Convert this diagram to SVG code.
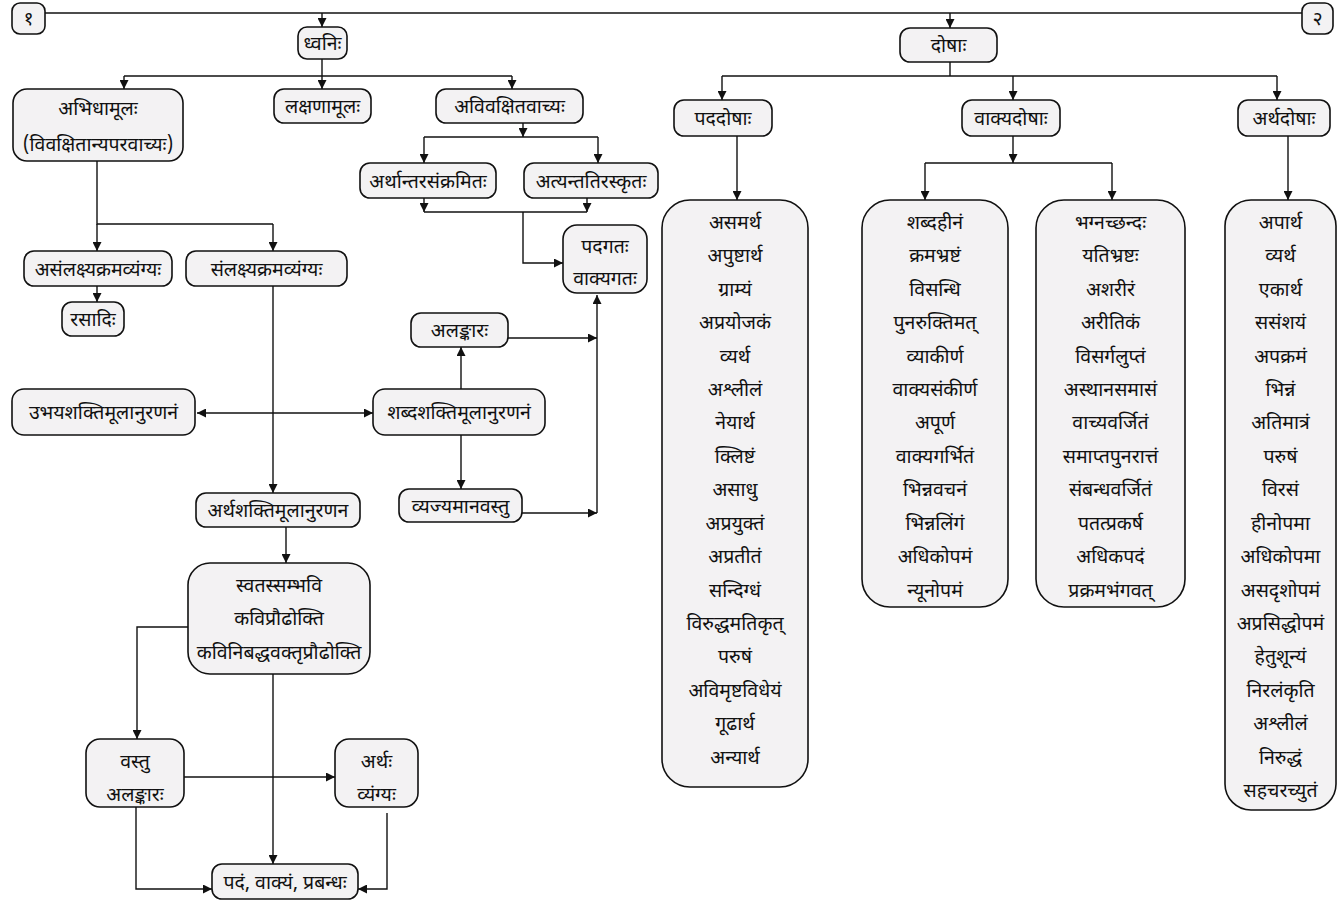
<svg xmlns="http://www.w3.org/2000/svg" width="1342" height="901" viewBox="0 0 1342 901">
<style>
.n{fill:#f3f2f3;stroke:#111;stroke-width:1.6}
.t{font-family:"Noto Sans Devanagari","Lohit Devanagari","Noto Sans",sans-serif;font-size:19.5px;text-anchor:middle;fill:#111}
.c{fill:none;stroke:#111;stroke-width:1.4}
</style>
<defs>
<marker id="a" viewBox="0 0 10 10" refX="10" refY="5" markerWidth="9" markerHeight="9" markerUnits="userSpaceOnUse" orient="auto-start-reverse"><path d="M0,0 L10,5 L0,10 z" fill="#111"/></marker>
</defs>
<rect width="1342" height="901" fill="#fff"/>
<g id="connectors">
<path class="c" d="M45,13 H1302"/>
<path class="c" d="M322,13 V27" marker-end="url(#a)"/>
<path class="c" d="M950,13 V28" marker-end="url(#a)"/>
<path class="c" d="M322,59 V89" marker-end="url(#a)"/>
<path class="c" d="M124,76 H512"/>
<path class="c" d="M124,76 V89" marker-end="url(#a)"/>
<path class="c" d="M512,76 V89" marker-end="url(#a)"/>
<path class="c" d="M97,161 V224 H273"/>
<path class="c" d="M97,224 V251" marker-end="url(#a)"/>
<path class="c" d="M273,224 V251" marker-end="url(#a)"/>
<path class="c" d="M97,286 V302" marker-end="url(#a)"/>
<path class="c" d="M273,286 V493" marker-end="url(#a)"/>
<path class="c" d="M197,413 H373" marker-start="url(#a)" marker-end="url(#a)"/>
<path class="c" d="M461,389 V347" marker-end="url(#a)"/>
<path class="c" d="M461,435 V489" marker-end="url(#a)"/>
<path class="c" d="M508,338 H597" marker-end="url(#a)"/>
<path class="c" d="M522,513 H597" marker-end="url(#a)"/>
<path class="c" d="M597,513 V295" marker-end="url(#a)"/>
<path class="c" d="M523,123 V137" marker-end="url(#a)"/>
<path class="c" d="M424,137 H598"/>
<path class="c" d="M424,137 V163" marker-end="url(#a)"/>
<path class="c" d="M598,137 V163" marker-end="url(#a)"/>
<path class="c" d="M424,198 V212" marker-end="url(#a)"/>
<path class="c" d="M587,198 V212" marker-end="url(#a)"/>
<path class="c" d="M424,212 H587"/>
<path class="c" d="M523,212 V263 H563" marker-end="url(#a)"/>
<path class="c" d="M286,527 V563" marker-end="url(#a)"/>
<path class="c" d="M188,627 H137 V739" marker-end="url(#a)"/>
<path class="c" d="M273,674 V864" marker-end="url(#a)"/>
<path class="c" d="M184,777 H335" marker-end="url(#a)"/>
<path class="c" d="M136,807 V889 H212" marker-end="url(#a)"/>
<path class="c" d="M387,813 V889 H358" marker-end="url(#a)"/>
<path class="c" d="M950,62 V76"/>
<path class="c" d="M722,76 H1277"/>
<path class="c" d="M722,76 V100" marker-end="url(#a)"/>
<path class="c" d="M1013,76 V100" marker-end="url(#a)"/>
<path class="c" d="M1277,76 V100" marker-end="url(#a)"/>
<path class="c" d="M737,136 V200" marker-end="url(#a)"/>
<path class="c" d="M1013,136 V163" marker-end="url(#a)"/>
<path class="c" d="M925,163 H1112"/>
<path class="c" d="M925,163 V200" marker-end="url(#a)"/>
<path class="c" d="M1112,163 V200" marker-end="url(#a)"/>
<path class="c" d="M1288,136 V200" marker-end="url(#a)"/>
</g>
<g id="n1"><rect class="n" x="12" y="3" width="33" height="31" rx="8"/><text class="t" x="28.5" y="25">१</text></g>
<g id="n2"><rect class="n" x="1302" y="3" width="31" height="31" rx="8"/><text class="t" x="1317.5" y="25">२</text></g>
<g id="dhvani"><rect class="n" x="298" y="27" width="49" height="32" rx="9"/><text class="t" x="322.5" y="50">ध्वनिः</text></g>
<g id="doshah"><rect class="n" x="900" y="28" width="97" height="34" rx="10"/><text class="t" x="948.5" y="52">दोषाः</text></g>
<g id="abhidha"><rect class="n" x="13" y="89" width="170" height="72" rx="14"/><text class="t" x="98" y="115">अभिधामूलः</text><text class="t" x="98" y="151">(विवक्षितान्यपरवाच्यः)</text></g>
<g id="lakshana"><rect class="n" x="274" y="89" width="97" height="34" rx="10"/><text class="t" x="322.5" y="113">लक्षणामूलः</text></g>
<g id="avivakshita"><rect class="n" x="436" y="89" width="147" height="34" rx="10"/><text class="t" x="509.5" y="113">अविवक्षितवाच्यः</text></g>
<g id="padadosha"><rect class="n" x="674" y="100" width="98" height="36" rx="10"/><text class="t" x="723" y="125">पददोषाः</text></g>
<g id="vakyadosha"><rect class="n" x="962" y="100" width="98" height="36" rx="10"/><text class="t" x="1011" y="125">वाक्यदोषाः</text></g>
<g id="arthadosha"><rect class="n" x="1238" y="100" width="92" height="36" rx="10"/><text class="t" x="1284" y="125">अर्थदोषाः</text></g>
<g id="arthantara"><rect class="n" x="360" y="163" width="136" height="35" rx="10"/><text class="t" x="428" y="188">अर्थान्तरसंक्रमितः</text></g>
<g id="atyanta"><rect class="n" x="524" y="163" width="134" height="35" rx="10"/><text class="t" x="591" y="188">अत्यन्ततिरस्कृतः</text></g>
<g id="padagata"><rect class="n" x="563" y="225" width="84" height="68" rx="14"/><text class="t" x="605" y="253">पदगतः</text><text class="t" x="605" y="285">वाक्यगतः</text></g>
<g id="asamlakshya"><rect class="n" x="24" y="251" width="148" height="35" rx="10"/><text class="t" x="98" y="276">असंलक्ष्यक्रमव्यंग्यः</text></g>
<g id="samlakshya"><rect class="n" x="186" y="251" width="161" height="35" rx="10"/><text class="t" x="266.5" y="276">संलक्ष्यक्रमव्यंग्यः</text></g>
<g id="rasadi"><rect class="n" x="62" y="302" width="62" height="34" rx="10"/><text class="t" x="93" y="326">रसादिः</text></g>
<g id="alankara1"><rect class="n" x="411" y="313" width="97" height="34" rx="10"/><text class="t" x="459.5" y="337">अलङ्कारः</text></g>
<g id="ubhaya"><rect class="n" x="12" y="389" width="183" height="46" rx="12"/><text class="t" x="103.5" y="419">उभयशक्तिमूलानुरणनं</text></g>
<g id="shabda"><rect class="n" x="373" y="389" width="172" height="46" rx="12"/><text class="t" x="459" y="419">शब्दशक्तिमूलानुरणनं</text></g>
<g id="arthashakti"><rect class="n" x="196" y="493" width="164" height="34" rx="10"/><text class="t" x="278" y="517">अर्थशक्तिमूलानुरणन</text></g>
<g id="vyajyamana"><rect class="n" x="399" y="489" width="123" height="33" rx="10"/><text class="t" x="460.5" y="513">व्यज्यमानवस्तु</text></g>
<g id="svatas"><rect class="n" x="188" y="563" width="182" height="111" rx="22"/><text class="t" x="279" y="592">स्वतस्सम्भवि</text><text class="t" x="279" y="625">कविप्रौढोक्ति</text><text class="t" x="279" y="659">कविनिबद्धवक्तृप्रौढोक्ति</text></g>
<g id="vastu"><rect class="n" x="86" y="739" width="98" height="68" rx="14"/><text class="t" x="135" y="768">वस्तु</text><text class="t" x="135" y="801">अलङ्कारः</text></g>
<g id="artha"><rect class="n" x="335" y="739" width="83" height="68" rx="14"/><text class="t" x="376.5" y="768">अर्थः</text><text class="t" x="376.5" y="801">व्यंग्यः</text></g>
<g id="padam"><rect class="n" x="212" y="864" width="146" height="35" rx="10"/><text class="t" x="285" y="889">पदं, वाक्यं, प्रबन्धः</text></g>
<g id="list-pada"><rect class="n" x="662" y="200" width="146" height="587" rx="28"/>
<text class="t" x="735" y="229">असमर्थ</text>
<text class="t" x="735" y="262">अपुष्टार्थ</text>
<text class="t" x="735" y="296">ग्राम्यं</text>
<text class="t" x="735" y="329">अप्रयोजकं</text>
<text class="t" x="735" y="363">व्यर्थ</text>
<text class="t" x="735" y="396">अश्लीलं</text>
<text class="t" x="735" y="429">नेयार्थ</text>
<text class="t" x="735" y="463">क्लिष्टं</text>
<text class="t" x="735" y="496">असाधु</text>
<text class="t" x="735" y="530">अप्रयुक्तं</text>
<text class="t" x="735" y="563">अप्रतीतं</text>
<text class="t" x="735" y="597">सन्दिग्धं</text>
<text class="t" x="735" y="630">विरुद्धमतिकृत्</text>
<text class="t" x="735" y="663">परुषं</text>
<text class="t" x="735" y="697">अविमृष्टविधेयं</text>
<text class="t" x="735" y="730">गूढार्थ</text>
<text class="t" x="735" y="764">अन्यार्थ</text>
</g>
<g id="list-vakya1"><rect class="n" x="862" y="200" width="146" height="407" rx="28"/>
<text class="t" x="935" y="229">शब्दहीनं</text>
<text class="t" x="935" y="262">क्रमभ्रष्टं</text>
<text class="t" x="935" y="296">विसन्धि</text>
<text class="t" x="935" y="329">पुनरुक्तिमत्</text>
<text class="t" x="935" y="363">व्याकीर्ण</text>
<text class="t" x="935" y="396">वाक्यसंकीर्ण</text>
<text class="t" x="935" y="429">अपूर्ण</text>
<text class="t" x="935" y="463">वाक्यगर्भितं</text>
<text class="t" x="935" y="496">भिन्नवचनं</text>
<text class="t" x="935" y="530">भिन्नलिंगं</text>
<text class="t" x="935" y="563">अधिकोपमं</text>
<text class="t" x="935" y="597">न्यूनोपमं</text>
</g>
<g id="list-vakya2"><rect class="n" x="1036" y="200" width="149" height="407" rx="28"/>
<text class="t" x="1110.5" y="229">भग्नच्छन्दः</text>
<text class="t" x="1110.5" y="262">यतिभ्रष्टः</text>
<text class="t" x="1110.5" y="296">अशरीरं</text>
<text class="t" x="1110.5" y="329">अरीतिकं</text>
<text class="t" x="1110.5" y="363">विसर्गलुप्तं</text>
<text class="t" x="1110.5" y="396">अस्थानसमासं</text>
<text class="t" x="1110.5" y="429">वाच्यवर्जितं</text>
<text class="t" x="1110.5" y="463">समाप्तपुनरात्तं</text>
<text class="t" x="1110.5" y="496">संबन्धवर्जितं</text>
<text class="t" x="1110.5" y="530">पतत्प्रकर्ष</text>
<text class="t" x="1110.5" y="563">अधिकपदं</text>
<text class="t" x="1110.5" y="597">प्रक्रमभंगवत्</text>
</g>
<g id="list-artha"><rect class="n" x="1225" y="200" width="111" height="610" rx="26"/>
<text class="t" x="1280.5" y="229">अपार्थ</text>
<text class="t" x="1280.5" y="262">व्यर्थ</text>
<text class="t" x="1280.5" y="296">एकार्थ</text>
<text class="t" x="1280.5" y="329">ससंशयं</text>
<text class="t" x="1280.5" y="363">अपक्रमं</text>
<text class="t" x="1280.5" y="396">भिन्नं</text>
<text class="t" x="1280.5" y="429">अतिमात्रं</text>
<text class="t" x="1280.5" y="463">परुषं</text>
<text class="t" x="1280.5" y="496">विरसं</text>
<text class="t" x="1280.5" y="530">हीनोपमा</text>
<text class="t" x="1280.5" y="563">अधिकोपमा</text>
<text class="t" x="1280.5" y="597">असदृशोपमं</text>
<text class="t" x="1280.5" y="630">अप्रसिद्धोपमं</text>
<text class="t" x="1280.5" y="663">हेतुशून्यं</text>
<text class="t" x="1280.5" y="697">निरलंकृति</text>
<text class="t" x="1280.5" y="730">अश्लीलं</text>
<text class="t" x="1280.5" y="764">निरुद्धं</text>
<text class="t" x="1280.5" y="797">सहचरच्युतं</text>
</g>
</svg>
